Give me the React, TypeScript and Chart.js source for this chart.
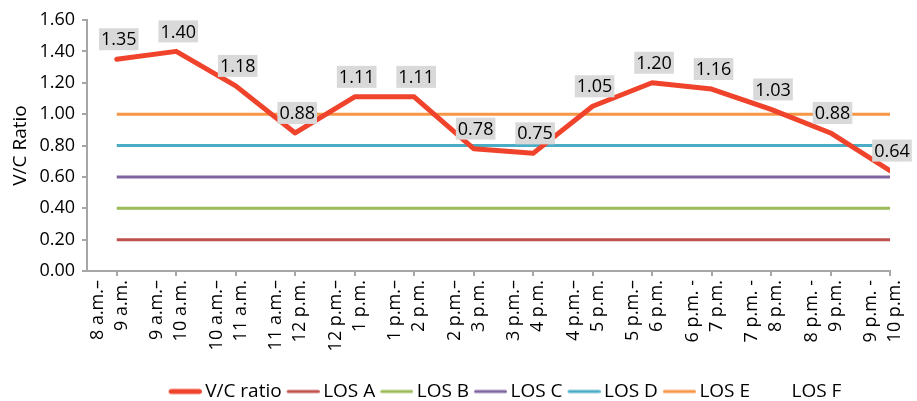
import React, { useEffect, useRef } from "react";
import { Chart, registerables } from "chart.js";

Chart.register(...registerables);

const categories: string[][] = [
  ["8 a.m.–", "9 a.m."],
  ["9 a.m.–", "10 a.m."],
  ["10 a.m.–", "11 a.m."],
  ["11 a.m.–", "12 p.m."],
  ["12 p.m.–", "1 p.m."],
  ["1 p.m.–", "2 p.m."],
  ["2 p.m.–", "3 p.m."],
  ["3 p.m.–", "4 p.m."],
  ["4 p.m.–", "5 p.m."],
  ["5 p.m.–", "6 p.m."],
  ["6 p.m. -", "7 p.m."],
  ["7 p.m. -", "8 p.m."],
  ["8 p.m. -", "9 p.m."],
  ["9 p.m. -", "10 p.m."],
];

const vcRatio: number[] = [1.35, 1.4, 1.18, 0.88, 1.11, 1.11, 0.78, 0.75, 1.05, 1.2, 1.16, 1.03, 0.88, 0.64];

const losNames: string[] = ["LOS A", "LOS B", "LOS C", "LOS D", "LOS E", "LOS F"];
const losValues: (number | null)[] = [0.2, 0.4, 0.6, 0.8, 1.0, null];
const losColors: string[] = ["#c0504d", "#9bbb59", "#8064a2", "#4bacc6", "#f79646", "rgba(0,0,0,0)"];

const yTicks: number[] = [0, 0.2, 0.4, 0.6, 0.8, 1.0, 1.2, 1.4, 1.6];

const FONT = "'Open Sans', 'Noto Sans', sans-serif";
const VC_COLOR = "#f0432c";
const AXIS_COLOR = "#a6a6a6";

function legendLine(color: string | null, width: number): HTMLCanvasElement {
  const c = document.createElement("canvas");
  c.width = 39;
  c.height = 8;
  const g = c.getContext("2d");
  if (g && color) {
    g.strokeStyle = color;
    g.lineWidth = width;
    g.lineCap = "round";
    g.beginPath();
    g.moveTo(6 + width / 2, 4);
    g.lineTo(39 - width / 2, 4);
    g.stroke();
  }
  return c;
}

const dataLabelPlugin = {
  id: "vcDataLabels",
  afterDatasetsDraw(chart: any) {
    const meta = chart.getDatasetMeta(0);
    const ctx = chart.ctx;
    ctx.save();
    ctx.font = `18px ${FONT}`;
    ctx.textAlign = "center";
    ctx.textBaseline = "middle";
    meta.data.forEach((pt: any, i: number) => {
      const text = vcRatio[i].toFixed(2);
      const w = ctx.measureText(text).width + 4;
      const h = 22;
      const cx = pt.x + 2;
      const bottom = pt.y - 9;
      ctx.fillStyle = "#d9d9d9";
      ctx.fillRect(cx - w / 2, bottom - h, w, h);
      ctx.fillStyle = "#000";
      ctx.fillText(text, cx, bottom - h / 2 + 1);
    });
    ctx.restore();
  },
};

const legendShiftPlugin = {
  id: "legendShift",
  afterLayout(chart: any) {
    if (chart.legend) {
      chart.legend.left += 60;
      chart.legend.right += 60;
      chart.legend.top += 10;
      chart.legend.bottom += 10;
    }
  },
};

export default function App() {
  const ref = useRef<HTMLCanvasElement | null>(null);

  useEffect(() => {
    document.body.style.margin = "0";
    if (!ref.current) return;
    const idx = categories.map((_, i) => i);
    const legendImgs = [legendLine(VC_COLOR, 5), ...losColors.map((c, k) => legendLine(losValues[k] === null ? null : c, 3))];

    const datasets: any[] = [
      {
        label: "V/C ratio",
        data: idx.map((i) => ({ x: i, y: vcRatio[i] })),
        borderColor: VC_COLOR,
        backgroundColor: VC_COLOR,
        borderWidth: 5,
        pointRadius: 0,
        borderCapStyle: "round",
        borderJoinStyle: "round",
      },
      ...losNames.map((name, k) => ({
        label: name,
        data: idx.map((i) => ({ x: i, y: losValues[k] })),
        borderColor: losColors[k],
        backgroundColor: losColors[k],
        borderWidth: 3,
        pointRadius: 0,
      })),
    ];

    const chart = new Chart(ref.current, {
      type: "line",
      data: { datasets },
      plugins: [dataLabelPlugin, legendShiftPlugin],
      options: {
        animation: false,
        responsive: true,
        maintainAspectRatio: false,
        layout: { padding: { top: 20, right: 27, left: 0, bottom: 0 } },
        plugins: {
          tooltip: { enabled: false },
          legend: {
            position: "bottom",
            labels: {
              usePointStyle: true,
              pointStyleWidth: 27,
              padding: 5,
              color: "#000",
              font: { family: FONT, size: 19 },
              generateLabels: (ch: any) => {
                const items = Chart.defaults.plugins.legend.labels.generateLabels(ch);
                return items.map((it: any, i: number) => ({ ...it, pointStyle: legendImgs[i] }));
              },
            },
          },
        },
        scales: {
          x: {
            type: "linear",
            min: -0.5,
            max: categories.length - 1,
            afterBuildTicks: (axis: any) => {
              axis.ticks = idx.map((i) => ({ value: i }));
            },
            afterFit: (scale: any) => {
              scale.height = 96;
              scale.paddingRight = 0;
              scale.paddingLeft = 0;
            },
            border: { display: true, color: AXIS_COLOR, width: 2 },
            grid: { display: true, drawOnChartArea: false, drawTicks: true, tickLength: 5, color: AXIS_COLOR, lineWidth: 2 },
            ticks: {
              autoSkip: false,
              minRotation: 90,
              maxRotation: 90,
              padding: 4,
              labelOffset: -19,
              color: "#000",
              font: { family: FONT, size: 18, lineHeight: 1.33 },
              callback: (v: any) => categories[Math.round(Number(v))] ?? "",
            },
          },
          y: {
            min: 0,
            max: 1.6,
            afterBuildTicks: (axis: any) => {
              axis.ticks = yTicks.map((v) => ({ value: v }));
            },
            afterFit: (scale: any) => {
              scale.width = 87;
            },
            border: { display: true, color: AXIS_COLOR, width: 2 },
            grid: { display: true, drawOnChartArea: false, drawTicks: true, tickLength: 5, color: AXIS_COLOR, lineWidth: 2 },
            ticks: {
              padding: 7,
              color: "#000",
              font: { family: FONT, size: 18 },
              callback: (v: any) => Number(v).toFixed(2),
            },
            title: {
              display: true,
              text: "V/C Ratio",
              color: "#000",
              font: { family: FONT, size: 19 },
              padding: { top: 9, bottom: 0 },
            },
          },
        },
      },
    });
    return () => chart.destroy();
  }, []);

  return (
    <div style={{ width: 917, height: 401, position: "relative" }}>
      <canvas ref={ref} />
    </div>
  );
}
